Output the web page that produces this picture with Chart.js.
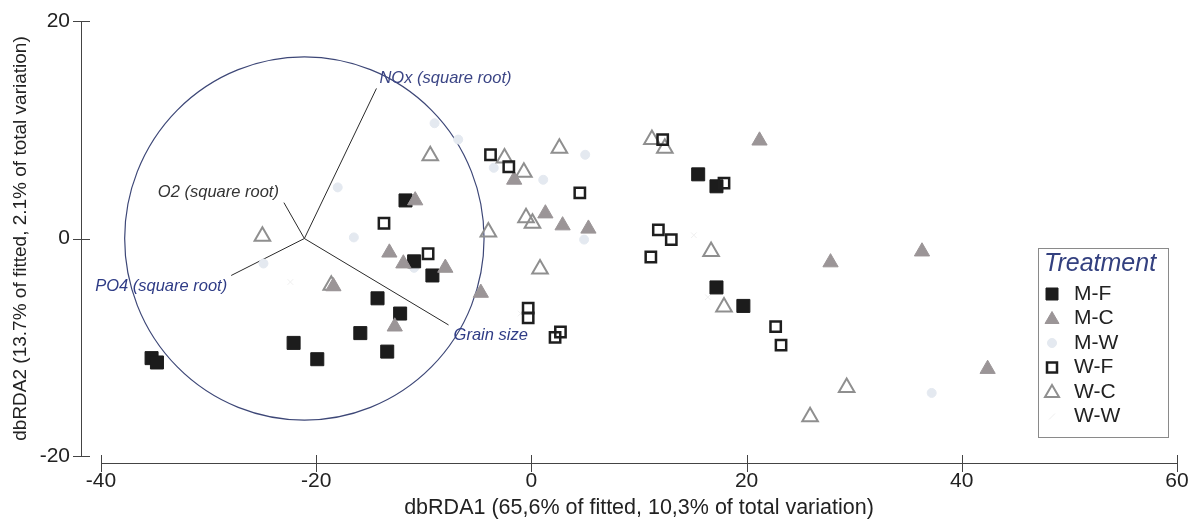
<!DOCTYPE html>
<html>
<head>
<meta charset="utf-8">
<script src="https://cdn.jsdelivr.net/npm/chart.js"></script>
<style>
  html, body { margin: 0; padding: 0; background: #fff; }
  #wrap { width: 1196px; height: 524px; }
</style>
</head>
<body>
<div id="wrap"><canvas id="rda" width="1196" height="524"></canvas></div>
<script>
// dbRDA ordination, samples by treatment
const treatments = ["M-F", "M-C", "M-W", "W-F", "W-C", "W-W"];

const mfPoints = [[-35.3, -11.0], [-34.8, -11.4], [-22.1, -9.6], [-19.9, -11.1], [-15.9, -8.7],
  [-14.3, -5.5], [-13.4, -10.4], [-12.2, -6.9], [-10.9, -2.1], [-9.2, -3.4], [-11.7, 3.5],
  [15.5, 5.9], [17.2, 4.8], [17.2, -4.5], [19.7, -6.2]];
const mcPoints = [[-10.8, 3.5], [-1.6, 5.4], [1.3, 2.3], [-13.2, -1.3], [-11.9, -2.3], [-8.0, -2.7],
  [-18.4, -4.4], [-12.7, -8.1], [-4.7, -5.0], [2.9, 1.2], [5.3, 0.9], [21.2, 9.0],
  [27.8, -2.2], [36.3, -1.2], [42.4, -12.0]];
const mwPoints = [[-9.0, 10.6], [-6.8, 9.1], [-18.0, 4.7], [-3.5, 6.5], [1.1, 5.4], [-24.9, -2.3],
  [-16.5, 0.1], [-10.9, -2.7], [5.0, 7.7], [4.9, -0.1], [37.2, -14.2]];
const wfPoints = [[-3.8, 7.7], [-2.1, 6.6], [-13.7, 1.4], [-9.6, -1.4], [-0.3, -6.4], [-0.3, -7.3],
  [2.2, -9.1], [2.7, -8.6], [4.5, 4.2], [12.2, 9.1], [11.8, 0.8], [13.0, -0.1], [11.1, -1.7],
  [17.9, 5.1], [22.7, -8.1], [23.2, -9.8]];
const wcPoints = [[-9.4, 7.6], [-2.5, 7.4], [-0.7, 6.1], [-0.5, 1.9], [0.1, 1.4], [-25.0, 0.2],
  [-4.0, 0.6], [0.8, -2.8], [-18.6, -4.3], [2.6, 8.3], [11.2, 9.1], [12.4, 8.3], [16.7, -1.2],
  [17.9, -6.3], [29.3, -13.7], [25.9, -16.4]];
const wwPoints = [[-22.4, -4.0], [15.1, 0.3], [16.4, -5.4], [-1.0, -6.9]];

// environmental vectors (from the circle centre) and correlation circle
const vectorNames = ["NOx (square root)", "O2 (square root)", "PO4 (square root)", "Grain size"];
const vectorX = [-14.4, -23.0, -27.9, -7.7];
const vectorY = [13.8, 3.3, -3.4, -7.95];
const circleCentre = [-21.1, 0];
const circleRadius = 16.7;

const xTicks = [-40, -20, 0, 20, 40, 60];
const yTicks = [-20, 0, 20];
const xTitle = "dbRDA1 (65,6% of fitted, 10,3% of total variation)";
const yTitle = "dbRDA2 (13.7% of fitted, 2.1% of total variation)";

const FONT = "'Liberation Sans', Arial, sans-serif";
const toXY = arr => arr.map(p => ({ x: p[0], y: p[1] }));

const seriesStyle = [
  { data: mfPoints, pointStyle: "rect", pointRadius: 9.2, backgroundColor: "#1c1c1c", borderColor: "#1c1c1c", borderWidth: 1 },
  { data: mcPoints, pointStyle: "triangle", pointRadius: 8.8, backgroundColor: "#9b9597", borderColor: "#9b9597", borderWidth: 1 },
  { data: mwPoints, pointStyle: "circle", pointRadius: 4.5, backgroundColor: "#e4e9f0", borderColor: "#e4e9f0", borderWidth: 1 },
  { data: wfPoints, pointStyle: "rect", pointRadius: 7.3, backgroundColor: "rgba(0,0,0,0)", borderColor: "#1e1e1e", borderWidth: 2.5 },
  { data: wcPoints, pointStyle: "triangle", pointRadius: 9, backgroundColor: "rgba(0,0,0,0)", borderColor: "#8f8f8f", borderWidth: 2 },
  { data: wwPoints, pointStyle: "crossRot", pointRadius: 4, backgroundColor: "#efefef", borderColor: "#efefef", borderWidth: 1 }
];

const datasets = treatments.map((name, i) => {
  const s = seriesStyle[i];
  return {
    label: name,
    data: toXY(s.data),
    pointStyle: s.pointStyle,
    pointRadius: s.pointRadius,
    pointHoverRadius: s.pointRadius,
    backgroundColor: s.backgroundColor,
    borderColor: s.borderColor,
    borderWidth: s.borderWidth,
    order: [3, 2, 6, 1, 4, 5][i]
  };
});

// circle, vectors, detached axes and the boxed legend
const rdaOverlay = {
  id: "rdaOverlay",
  beforeDatasetsDraw(chart) {
    const { ctx, scales: { x, y } } = chart;
    const cx = x.getPixelForValue(circleCentre[0]);
    const cy = y.getPixelForValue(circleCentre[1]);
    const rx = x.getPixelForValue(circleCentre[0] + circleRadius) - cx;
    const ry = cy - y.getPixelForValue(circleCentre[1] + circleRadius);
    ctx.save();
    ctx.strokeStyle = "#3d4777";
    ctx.lineWidth = 1.2;
    ctx.beginPath();
    ctx.ellipse(cx, cy, rx, ry, 0, 0, Math.PI * 2);
    ctx.stroke();

    const labelPos = [
      { dx: 3, dy: -10, align: "left", color: "#3b4585" },
      { dx: -5, dy: -10, align: "right", color: "#333333" },
      { dx: -4, dy: 11, align: "right", color: "#2f3c86" },
      { dx: 5, dy: 10, align: "left", color: "#2f3c86" }
    ];
    ctx.strokeStyle = "#2a2a2a";
    ctx.lineWidth = 1;
    ctx.font = "italic 16.5px " + FONT;
    ctx.textBaseline = "middle";
    vectorNames.forEach((name, i) => {
      const ex = x.getPixelForValue(vectorX[i]);
      const ey = y.getPixelForValue(vectorY[i]);
      ctx.beginPath();
      ctx.moveTo(cx, cy);
      ctx.lineTo(ex, ey);
      ctx.stroke();
      const lp = labelPos[i];
      ctx.fillStyle = lp.color;
      ctx.textAlign = lp.align;
      ctx.fillText(name, ex + lp.dx, ey + lp.dy);
    });
    ctx.restore();
  },
  afterDraw(chart) {
    const { ctx, chartArea, scales: { x, y } } = chart;
    ctx.save();
    ctx.strokeStyle = "#444";
    ctx.lineWidth = 1;
    // y axis, set off to the left of the plot
    const ax = chartArea.left - 20;
    ctx.beginPath();
    ctx.moveTo(ax + 0.5, y.getPixelForValue(yTicks[yTicks.length - 1]));
    ctx.lineTo(ax + 0.5, y.getPixelForValue(yTicks[0]));
    yTicks.forEach(v => {
      const py = Math.round(y.getPixelForValue(v)) + 0.5;
      ctx.moveTo(ax - 8, py);
      ctx.lineTo(ax + 9, py);
    });
    ctx.stroke();
    // x axis, set off below the plot
    const ay = chartArea.bottom + 7;
    ctx.beginPath();
    ctx.moveTo(x.getPixelForValue(xTicks[0]), ay + 0.5);
    ctx.lineTo(x.getPixelForValue(xTicks[xTicks.length - 1]), ay + 0.5);
    xTicks.forEach(v => {
      const px = Math.round(x.getPixelForValue(v)) + 0.5;
      ctx.moveTo(px, ay - 8);
      ctx.lineTo(px, ay + 9);
    });
    ctx.stroke();

    // legend box
    const lx = 1038, ly = 248, lw = 130, lh = 189;
    ctx.fillStyle = "#fff";
    ctx.fillRect(lx, ly, lw, lh);
    ctx.strokeStyle = "#8a8a8a";
    ctx.strokeRect(lx + 0.5, ly + 0.5, lw, lh);
    ctx.fillStyle = "#33407f";
    ctx.font = "italic 25px " + FONT;
    ctx.textAlign = "left";
    ctx.textBaseline = "middle";
    ctx.fillText("Treatment", lx + 6, ly + 16);
    ctx.font = "21px " + FONT;
    treatments.forEach((name, i) => {
      const rowY = ly + 46 + i * 24.5;
      const ds = chart.data.datasets[i];
      const sx = lx + 14;
      ctx.save();
      ctx.fillStyle = ds.backgroundColor;
      ctx.strokeStyle = ds.borderColor;
      ctx.lineWidth = ds.borderWidth;
      ctx.beginPath();
      if (ds.pointStyle === "rect") {
        const h = ds.borderWidth > 2 ? 5 : 6;
        ctx.rect(sx - h, rowY - h, h * 2, h * 2);
      } else if (ds.pointStyle === "triangle") {
        ctx.moveTo(sx, rowY - 7);
        ctx.lineTo(sx + 7, rowY + 5);
        ctx.lineTo(sx - 7, rowY + 5);
        ctx.closePath();
      } else if (ds.pointStyle === "circle") {
        ctx.arc(sx, rowY, 4.5, 0, Math.PI * 2);
      } else {
        ctx.moveTo(sx - 3, rowY + 3);
        ctx.lineTo(sx + 3, rowY - 3);
      }
      ctx.fill();
      ctx.stroke();
      ctx.restore();
      ctx.fillStyle = "#222";
      ctx.fillText(name, lx + 36, rowY);
    });
    ctx.restore();
  }
};

new Chart(document.getElementById("rda"), {
  type: "scatter",
  data: { datasets },
  options: {
    responsive: false,
    animation: false,
    events: [],
    layout: { padding: { left: 0, right: 19, top: 21, bottom: 0 } },
    plugins: { legend: { display: false }, tooltip: { enabled: false } },
    scales: {
      x: {
        type: "linear",
        min: xTicks[0],
        max: xTicks[xTicks.length - 1],
        afterBuildTicks: s => { s.ticks = xTicks.map(v => ({ value: v })); },
        afterFit: s => { s.height = 68; s.paddingLeft = 10; s.paddingRight = 10; },
        grid: { display: false, drawTicks: false },
        border: { display: false },
        ticks: { color: "#222", font: { family: FONT, size: 21 }, padding: 13, maxRotation: 0 },
        title: { display: true, text: xTitle, color: "#222", font: { family: FONT, size: 21.5 }, padding: { top: 0, bottom: 3 } }
      },
      y: {
        type: "linear",
        min: yTicks[0],
        max: yTicks[yTicks.length - 1],
        afterBuildTicks: s => { s.ticks = yTicks.map(v => ({ value: v })); },
        afterFit: s => { s.width = 101; s.paddingTop = 12; s.paddingBottom = 12; },
        grid: { display: false, drawTicks: false },
        border: { display: false },
        ticks: { color: "#222", font: { family: FONT, size: 21 }, padding: 31 },
        title: { display: true, text: yTitle, color: "#222", font: { family: FONT, size: 19 }, padding: { top: 9, bottom: 0 } }
      }
    }
  },
  plugins: [rdaOverlay]
});
</script>
</body>
</html>
